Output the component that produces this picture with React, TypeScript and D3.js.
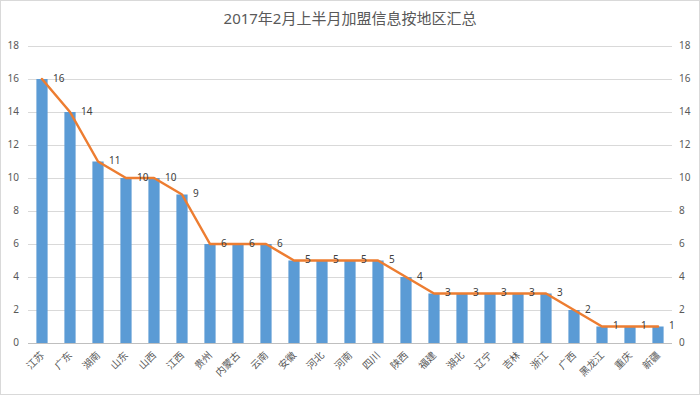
import * as d3 from "d3";
import { useEffect, useRef } from "react";

const regions = [
  "江苏", "广东", "湖南", "山东", "山西", "江西", "贵州", "内蒙古", "云南", "安徽",
  "河北", "河南", "四川", "陕西", "福建", "湖北", "辽宁", "吉林", "浙江", "广西",
  "黑龙江", "重庆", "新疆",
];
const counts = [16, 14, 11, 10, 10, 9, 6, 6, 6, 5, 5, 5, 5, 4, 3, 3, 3, 3, 3, 2, 1, 1, 1];
const yTicks = [0, 2, 4, 6, 8, 10, 12, 14, 16, 18];
const title = "2017年2月上半月加盟信息按地区汇总";

const W = 700;
const H = 395;
const margin = { top: 46, bottom: 52, left: 28, right: 28 };
const font = "'Noto Sans', 'Noto Sans CJK SC', sans-serif";

const App = () => {
  const ref = useRef<SVGSVGElement>(null);

  useEffect(() => {
    const svg = d3.select(ref.current);
    svg.selectAll("*").remove();

    const x = d3.scaleBand<string>()
      .domain(regions)
      .range([margin.left, W - margin.right])
      .paddingInner(0.6)
      .paddingOuter(0.3);
    const y = d3.scaleLinear()
      .domain([0, 18])
      .range([H - margin.bottom, margin.top]);
    const cx = (d: string) => (x(d) as number) + x.bandwidth() / 2;

    svg.append("rect")
      .attr("x", 0.5).attr("y", 0.5)
      .attr("width", W - 1).attr("height", H - 1)
      .attr("fill", "#fff")
      .attr("stroke", "#d9d9d9");

    svg.append("text")
      .attr("x", W / 2).attr("y", 24)
      .attr("text-anchor", "middle")
      .style("font-family", font)
      .style("font-size", "15px")
      .attr("fill", "#595959")
      .text(title);

    // grid
    svg.append("g")
      .selectAll("line")
      .data(yTicks)
      .join("line")
      .attr("x1", margin.left).attr("x2", W - margin.right)
      .attr("y1", d => Math.round(y(d)) + 0.5).attr("y2", d => Math.round(y(d)) + 0.5)
      .attr("stroke", d => (d === 0 ? "#bfbfbf" : "#d9d9d9"))
      .attr("stroke-width", 1);

    // left / right tick labels
    const tickStyle = (sel: any) => sel
      .style("font-family", font)
      .style("font-size", "10px")
      .attr("fill", "#595959")
      .attr("dominant-baseline", "middle");
    svg.append("g").selectAll("text")
      .data(yTicks).join("text")
      .attr("x", 19).attr("y", d => y(d))
      .attr("text-anchor", "end")
      .text(d => d)
      .call(tickStyle);
    svg.append("g").selectAll("text")
      .data(yTicks).join("text")
      .attr("x", 679).attr("y", d => y(d))
      .attr("text-anchor", "start")
      .text(d => d)
      .call(tickStyle);

    // bars
    svg.append("g").selectAll("rect")
      .data(regions).join("rect")
      .attr("x", d => x(d) as number)
      .attr("y", (d, i) => y(counts[i]))
      .attr("width", x.bandwidth())
      .attr("height", (d, i) => y(0) - y(counts[i]))
      .attr("fill", "#5b9bd5");

    // line
    const line = d3.line<number>()
      .x((d, i) => cx(regions[i]))
      .y(d => y(d));
    svg.append("path")
      .datum(counts)
      .attr("d", line)
      .attr("fill", "none")
      .attr("stroke", "#ed7d31")
      .attr("stroke-width", 2.5)
      .attr("stroke-linejoin", "round")
      .attr("stroke-linecap", "round");

    // data labels
    svg.append("g").selectAll("text")
      .data(counts).join("text")
      .attr("x", (d, i) => cx(regions[i]) + 11)
      .attr("y", d => y(d))
      .attr("dominant-baseline", "middle")
      .style("font-family", font)
      .style("font-size", "10px")
      .attr("fill", "#404040")
      .text(d => d);

    // category labels
    svg.append("g").selectAll("text")
      .data(regions).join("text")
      .attr("transform", d => `translate(${cx(d) + 1},${y(0) + 11}) rotate(-45)`)
      .attr("text-anchor", "end")
      .attr("dominant-baseline", "middle")
      .style("font-family", font)
      .style("font-size", "10px")
      .attr("fill", "#595959")
      .text(d => d);
  }, []);

  return <svg ref={ref} width={W} height={H} style={{ position: "absolute", left: 0, top: 0 }} />;
};

export default App;
